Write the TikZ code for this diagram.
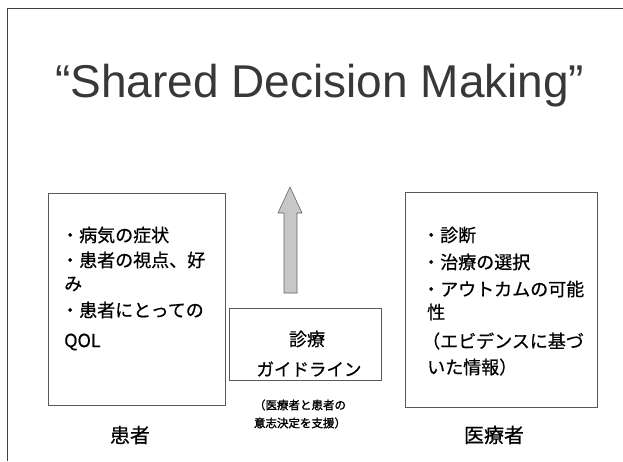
\documentclass[tikz,border=0pt]{standalone}
\usepackage{fontspec}
\setmainfont{Liberation Sans}
\newfontfamily\jp[FakeBold=0.6]{Noto Sans CJK JP}
\newfontfamily\jpcap[FakeBold=1.6]{Noto Sans CJK JP}
\begin{document}
\begin{tikzpicture}[x=1pt,y=-1pt,
  frameline/.style={draw=black!75,line width=0.8pt},
  boxline/.style={draw=black!65,line width=0.7pt},
  jptxt/.style={inner sep=0pt,anchor=west,font=\jp\fontsize{18}{18}\selectfont,text=black},
  captxt/.style={inner sep=0pt,font=\jpcap\fontsize{11.5}{11.5}\selectfont,text=black},
  labtxt/.style={inner sep=0pt,font=\jp\fontsize{20}{20}\selectfont,text=black},
  arrowshape/.style={draw=black!60,fill=black!22,line width=0.6pt}]
\fill[white] (0,0) rectangle (623,461);
\useasboundingbox (0,0) rectangle (623,461);
% outer frame (top and left edges)
\coordinate (fTR) at (623,8);
\coordinate (fTL) at (7,8);
\coordinate (fBL) at (7,461);
\draw[frameline] (fTR) -- (fTL) -- (fBL);
% title
\node[inner sep=0pt,anchor=base west,font=\fontsize{46}{46}\selectfont,text=black!78] (title) at (55,97) {“Shared Decision Making”};
% left box
\node[boxline,minimum width=177pt,minimum height=212pt,anchor=north west,inner sep=0pt] (pbox) at (48,193) {};
\node[jptxt] (p1) at (61,235) {・病気の症状};
\node[jptxt] (p2) at (61,260) {・患者の視点、好};
\node[jptxt] (p3) at (64,284) {み};
\node[jptxt] (p4) at (61,310) {・患者にとっての};
\node[jptxt] (p5) at (64,342) {QOL};
\node[labtxt] (plab) at (130,435) {患者};
% right box
\node[boxline,minimum width=192pt,minimum height=215pt,anchor=north west,inner sep=0pt] (dbox) at (405,192) {};
\node[jptxt] (d1) at (422,235) {・診断};
\node[jptxt] (d2) at (422,262) {・治療の選択};
\node[jptxt] (d3) at (422,289) {・アウトカムの可能};
\node[jptxt] (d4) at (427,312) {性};
\node[jptxt] (d5) at (422,341) {（エビデンスに基づ};
\node[jptxt] (d6) at (427,367) {いた情報）};
\node[labtxt] (dlab) at (494,435) {医療者};
% guideline box
\node[boxline,minimum width=152pt,minimum height=72pt,anchor=north west,inner sep=0pt] (gbox) at (229,308) {};
\node[inner sep=0pt,font=\jp\fontsize{18}{18}\selectfont,text=black] (g1) at (307,339) {診療};
\node[inner sep=0pt,font=\jp\fontsize{17.5}{17.5}\selectfont,text=black] (g2) at (309,369) {ガイドライン};
\node[captxt] (c1) at (300,405) {（医療者と患者の};
\node[captxt] (c2) at (300,423) {意志決定を支援）};
% upward arrow
\draw[arrowshape] (284,293) -- (284,213) -- (278,213) -- (290,187) -- (302,213) -- (297,213) -- (297,293) -- cycle;
\end{tikzpicture}
\end{document}
